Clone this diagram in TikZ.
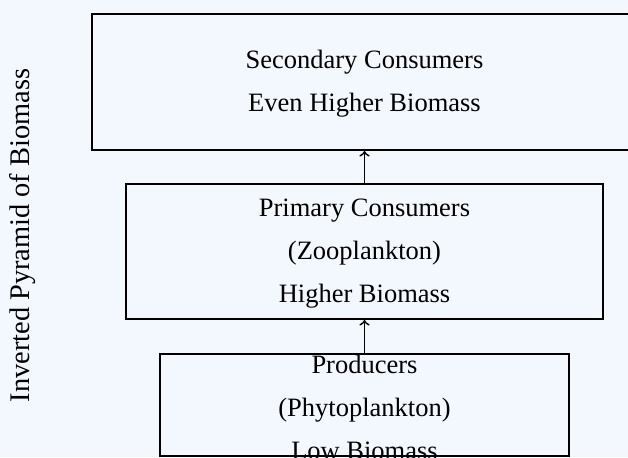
\documentclass[tikz,border=0pt]{standalone}
\usepackage{fontspec}
\setmainfont{Liberation Serif}
\definecolor{pagebg}{RGB}{243,247,254}
\tikzset{
  level/.style={draw=black, line width=1pt, rectangle, inner sep=0pt},
  leveltext/.style={align=center, inner sep=0pt,
    font=\fontsize{13.25}{21.5}\selectfont},
  flow/.style={->, line width=0.9pt, shorten <=0pt, shorten >=0pt},
  sidelabel/.style={rotate=90, inner sep=0pt,
    font=\fontsize{14.2}{17}\selectfont}
}
\begin{document}
\begin{tikzpicture}[x=0.5pt, y=-0.5pt]
  % canvas
  \useasboundingbox (0,0) rectangle (628,457);
  \fill[pagebg] (0,0) rectangle (628,457);
  \clip (0,0) rectangle (628,457);

  % trophic levels, widest at the top
  \node[level, minimum width=272.5pt, minimum height=68.25pt] (sec) at (364.5,81.75) {};
  \node[level, minimum width=238.5pt, minimum height=67.5pt] (pri) at (364.5,251.5) {};
  \node[level, minimum width=204.5pt, minimum height=51pt] (prod) at (364.5,405) {};

  \node[leveltext] (sectext) at (364.5,84) {Secondary Consumers\\Even Higher Biomass};
  \node[leveltext] (pritext) at (364.5,254) {Primary Consumers\\(Zooplankton)\\Higher Biomass};
  \node[leveltext] (prodtext) at (364.5,407.5) {Producers\\(Phytoplankton)\\Low Biomass};

  % energy flow upward
  \draw[flow] (prod.north) -- (pri.south);
  \draw[flow] (pri.north) -- (sec.south);

  % axis caption
  \node[sidelabel, anchor=base] (caption) at (29,235.5) {Inverted Pyramid of Biomass};
\end{tikzpicture}
\end{document}
